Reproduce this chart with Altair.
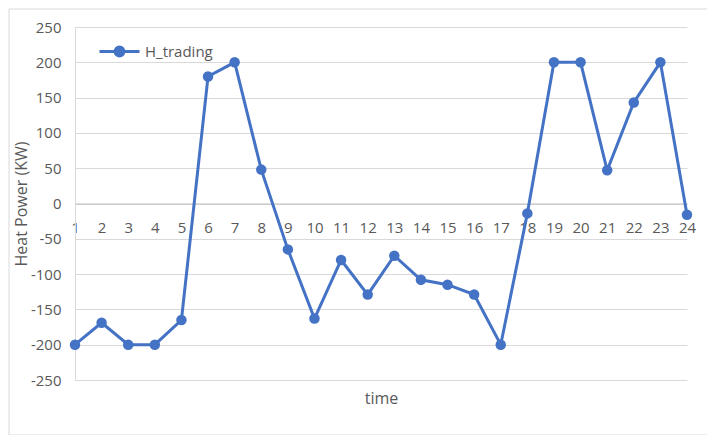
import altair as alt
import pandas as pd

hours = list(range(1, 25))
h_trading = [-200, -169, -200, -200, -165, 180, 200, 48, -65, -163, -80, -129,
             -74, -108, -115, -129, -200, -14, 200, 200, 47, 143, 200, -16]
series_name = "H_trading"
y_ticks = [-250, -200, -150, -100, -50, 0, 50, 100, 150, 200, 250]

df = pd.DataFrame({"time": hours, "value": h_trading, "series": [series_name] * len(hours)})

BLUE = "#4472C4"
GRAY_TXT = "#595959"
FONT = "Open Sans"

legend_path = ("M-1,0L1,0M0.22,0A0.22,0.22,0,1,1,-0.22,0A0.22,0.22,0,1,1,0.22,0Z")

line = alt.Chart(df).mark_line(
    strokeWidth=3,
    point=alt.OverlayMarkDef(filled=True, size=110, color=BLUE, opacity=1),
).encode(
    x=alt.X("time:O", sort=hours,
            scale=alt.Scale(type="point", padding=0),
            axis=alt.Axis(title="time", labelAngle=0, offset=-176.5,
                          domainColor="#bfbfbf", ticks=False, labelPadding=17,
                          titleY=194.5, titleBaseline="middle",
                          titleFontWeight="normal", titleFontSize=16,
                          titleColor=GRAY_TXT, grid=False, zindex=0)),
    y=alt.Y("value:Q", scale=alt.Scale(domain=[-250, 250], nice=False),
            axis=alt.Axis(title="Heat Power (KW)", values=y_ticks, ticks=False,
                          labelPadding=14, domainColor="#d9d9d9",
                          labelExpr="toString(datum.value)",
                          gridColor="#d9d9d9", titleFontWeight="normal",
                          titleFontSize=16, titleColor=GRAY_TXT,
                          titleX=-54, titleY=176.5, titleAlign="center",
                          titleBaseline="middle", titleAngle=270, zindex=0)),
    color=alt.Color("series:N",
                    scale=alt.Scale(domain=[series_name], range=[BLUE]),
                    legend=alt.Legend(title=None, orient="none", legendX=23, legendY=3,
                                      symbolType=legend_path, symbolSize=1600,
                                      symbolStrokeWidth=3, symbolFillColor=BLUE,
                                      symbolStrokeColor=BLUE, labelFontSize=15,
                                      labelColor=GRAY_TXT, labelFont=FONT,
                                      labelOffset=4)),
)

border = alt.Chart(pd.DataFrame({"a": [0]})).mark_rect(
    fill=None, stroke="#d9d9d9", strokeWidth=1
).encode(x=alt.value(-66), x2=alt.value(641), y=alt.value(-18), y2=alt.value(408))

chart = alt.layer(border, line).properties(
    width=612, height=353,
    padding={"left": 67, "top": 19, "right": 20, "bottom": 55},
    autosize=alt.AutoSizeParams(type="none"),
).configure_axis(
    labelFont=FONT, titleFont=FONT, labelFontSize=15, labelColor=GRAY_TXT,
).configure_view(stroke=None)

chart.save("out.html", embed_options={"renderer": "svg", "actions": False})
